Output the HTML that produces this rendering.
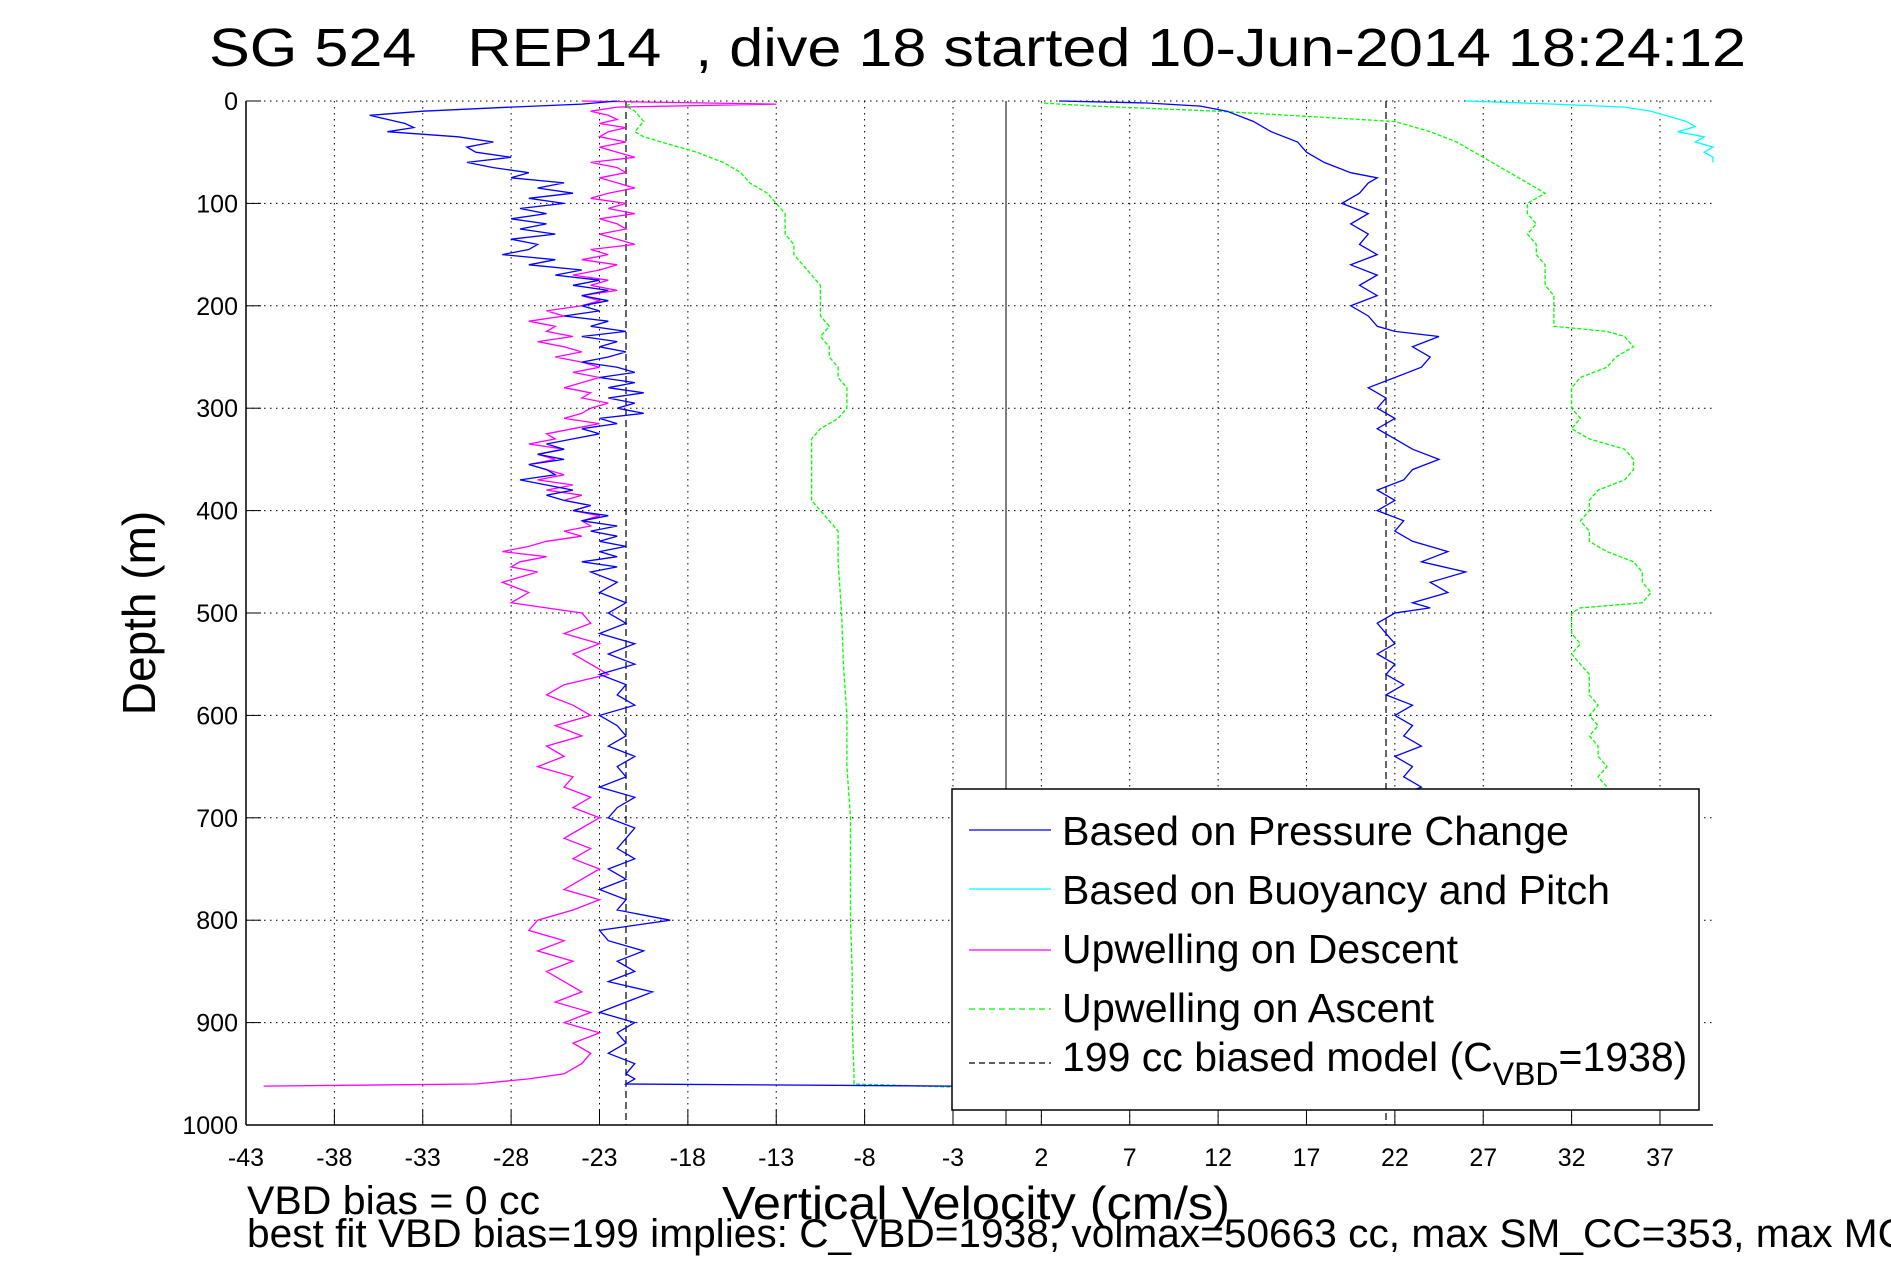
<!DOCTYPE html>
<html><head><meta charset="utf-8">
<style>
html,body{margin:0;padding:0;background:#fff;}
svg{display:block;font-family:"Liberation Sans",sans-serif;}
</style></head>
<body>
<svg id="chart" width="1891" height="1262" viewBox="0 0 1891 1262" xmlns="http://www.w3.org/2000/svg">
<rect width="1891" height="1262" fill="#fff"/>
<text x="209" y="66" font-size="54" textLength="1537" lengthAdjust="spacingAndGlyphs" xml:space="preserve" style="white-space:pre">SG 524   REP14  , dive 18 started 10-Jun-2014 18:24:12</text>
<g id="grid"></g>
<g id="series"></g>
<g id="axes"></g>
<text transform="translate(155,613) rotate(-90)" text-anchor="middle" font-size="46">Depth (m)</text>
<text x="976" y="1219" text-anchor="middle" font-size="46" textLength="508" lengthAdjust="spacingAndGlyphs">Vertical Velocity (cm/s)</text>
<text x="247" y="1214" font-size="40" textLength="293" lengthAdjust="spacingAndGlyphs">VBD bias = 0 cc</text>
<text x="247" y="1247" font-size="40" textLength="1660" lengthAdjust="spacingAndGlyphs">best fit VBD bias=199 implies: C_VBD=1938, volmax=50663 cc, max SM_CC=353, max MC</text>
<g id="legend">
<rect x="952" y="789" width="747" height="321" fill="#fff" stroke="#000" stroke-width="1.5"/>
<line x1="969" y1="830" x2="1051" y2="830" stroke="#0000ff" stroke-width="1.2"/>
<text x="1062" y="845" font-size="41" textLength="507" lengthAdjust="spacingAndGlyphs">Based on Pressure Change</text>
<line x1="969" y1="889" x2="1051" y2="889" stroke="#00ffff" stroke-width="1.2"/>
<text x="1062" y="904" font-size="41" textLength="548" lengthAdjust="spacingAndGlyphs">Based on Buoyancy and Pitch</text>
<line x1="969" y1="950" x2="1051" y2="950" stroke="#ff00ff" stroke-width="1.2"/>
<text x="1062" y="963" font-size="41" textLength="396" lengthAdjust="spacingAndGlyphs">Upwelling on Descent</text>
<line x1="969" y1="1009" x2="1051" y2="1009" stroke="#00ff00" stroke-width="1.2" stroke-dasharray="6,4"/>
<text x="1062" y="1022" font-size="41" textLength="372" lengthAdjust="spacingAndGlyphs">Upwelling on Ascent</text>
<line x1="969" y1="1063" x2="1051" y2="1063" stroke="#000" stroke-width="1.2" stroke-dasharray="6,4"/>
<text x="1062" y="1071" font-size="41">199 cc biased model (C<tspan font-size="32" dy="14">VBD</tspan><tspan dy="-14">=1938)</tspan></text>
</g>
</svg>
<script>
const xTicks=[-43,-38,-33,-28,-23,-18,-13,-8,-3,2,7,12,17,22,27,32,37];
const yTicks=[0,100,200,300,400,500,600,700,800,900,1000];
const descDepth=[0,3,6,10,14,18,22,26,30,35,40,45,50,55,60,65,70,75,80,85,90,95,100,105,110,115,120,125,130,135,140,145,150,155,160,165,170,175,180,185,190,195,200,205,210,215,220,225,230,235,240,245,250,255,260,265,270,275,280,285,290,295,300,305,310,315,320,325,330,335,340,345,350,355,360,365,370,375,380,385,390,395,400,405,410,415,420,425,430,435,440,445,450,455,460,470,480,490,500,510,520,530,540,550,560,570,580,590,600,610,620,630,640,650,660,670,680,690,700,710,720,730,740,750,760,770,780,790,800,810,820,830,840,850,860,870,880,890,900,910,920,930,940,950,955,960,962];
const blueDesc=[-22,-24,-28,-33,-36,-35,-34,-33.5,-35,-31,-29,-30.5,-30,-28,-30.5,-29,-27,-28,-25,-26.5,-24.5,-27,-25,-27.5,-26,-28,-26,-27.5,-25.5,-28,-26.5,-27,-28.5,-25.5,-27,-24,-25.5,-23,-24.5,-22.5,-24,-22.5,-24,-23,-25,-22.5,-23.5,-21.5,-24,-22,-23,-21.5,-22.5,-24,-22,-21,-23,-21,-22.5,-20.5,-22.5,-21,-22,-20.5,-23,-22,-24,-23,-24.5,-26,-25,-26.5,-25,-27,-26,-25.5,-27.5,-26,-24.5,-26,-25,-23.5,-24.5,-22.5,-24,-22,-23.5,-22,-23,-21.5,-23,-22,-24,-22,-23.5,-22,-23,-21.5,-22.5,-21.5,-23,-21,-22.5,-21,-23,-21.5,-22,-21,-23,-22,-21.5,-22.5,-21,-22,-21.5,-23,-21,-22,-22.5,-21,-21.5,-22,-21,-22.5,-21.5,-23,-21.5,-22,-19,-23,-22.5,-20.5,-22,-21,-22.5,-20,-21.5,-23,-21,-22,-21.5,-22.5,-21,-21.5,-21,-21.5,-3];
const magDesc=[-24,-13,-22,-23.5,-22.5,-22,-23,-21.5,-22.5,-23,-21.5,-23,-22,-21,-23.5,-22,-21.5,-23,-22,-21,-22.5,-23.5,-21.5,-22.5,-21,-23,-22,-21.5,-23,-22,-21,-23.5,-22.5,-24,-22,-23,-24.5,-22.5,-23.5,-22,-24,-23,-24,-26,-25,-27,-25.5,-26,-24.5,-26.5,-25,-24,-25.5,-24,-23,-24.5,-23,-24,-25,-23.5,-24,-22.5,-23.5,-24,-25,-23,-24.5,-26,-25.5,-27,-25,-26.5,-25.5,-27,-26,-25,-26.5,-24.5,-26,-24,-25,-23.5,-24.5,-23,-24,-23.5,-25,-24,-26,-27,-28.5,-26,-27.5,-28,-26.5,-28.5,-27,-28,-24,-23.5,-25,-23,-24.5,-23.5,-22.5,-25,-26,-24.5,-23.5,-25.5,-24,-26,-25,-26.5,-24.5,-25,-23.5,-24.5,-23,-24,-25,-23.5,-24.5,-23,-24,-25,-23,-24.5,-26.5,-27,-25,-26.5,-24.5,-26,-25,-24,-25.5,-23.5,-25,-23,-24.5,-23.5,-24,-25,-27,-30,-42];
const ascDepth=[965,950,940,930,920,910,900,890,880,870,860,850,840,830,820,810,800,790,780,770,760,750,740,730,720,710,700,690,680,670,660,650,640,630,620,610,600,590,580,570,560,550,540,530,520,510,500,495,490,480,470,460,450,440,430,420,410,400,390,380,370,360,350,340,330,320,310,300,290,280,270,260,250,240,230,225,220,210,200,190,180,170,160,150,140,130,120,110,100,90,80,75,70,60,50,40,30,20,10,5,2,0];
const blueAsc=[22,22.5,22,23,22,22.5,23,22,22.5,22,23,22,22.5,23,22,22.5,22,23,22.5,22,23,22,22.5,23,22,22.5,22,23,22,23.5,22.5,23,22,23.5,22.5,23,22,23,21.5,22.5,21.5,22,21,22,21.5,21,22,24,23,25,24,26,23.5,25,23,22,22.5,21,22,21,22.5,23,24.5,23,22,21,22,21,21.5,20.5,22,23.5,24,23,24.5,22,21,20.5,19.5,21,20,21,19.5,21,20,20.5,19.5,20.5,19,20,20.5,21,19.5,18,17,16.5,15,14,12.5,11,8,3];
const greenAscX=[33.5,33.5,33.5,33.5,33.5,33.5,33.5,33.5,33.5,33.5,33.5,33.5,33.5,33.5,33.5,33.5,33.5,33.5,33.5,33.5,33.5,33.5,33.5,33.5,33.5,33.5,33.5,33.5,34,34,33.5,34,33.5,33.5,33,33.5,33,33.5,33,33,33,32.5,32,32.5,32,32,32,32.5,36,36.5,36,36,35.5,34,33,33,32.5,33,33,33.5,35,35.5,35.5,35,33,32,32.5,32,32,32,32.5,34,34.5,35.5,35,34,31,31,31,31,30.5,30.5,30.5,30,30,29.5,30,29.5,29.5,30.5,29.5,29,28.5,27.5,26.5,25.5,24,22,12,5,2];
const greenDescDepth=[0,5,10,20,30,35,40,50,60,70,80,90,100,110,120,130,140,150,160,170,180,190,200,210,220,230,240,250,260,270,280,290,300,310,320,330,340,350,360,370,380,390,400,410,420,450,500,550,600,650,700,750,800,850,900,950,960,963];
const greenDescX=[-21,-21.5,-21,-20.5,-21,-20.5,-19.5,-17.5,-16,-15,-14.5,-13.5,-13,-12.5,-12.5,-12.5,-12,-12,-11.5,-11,-10.5,-10.5,-10.5,-10.5,-10,-10.5,-10,-10,-9.5,-9.5,-9,-9,-9,-9.5,-10.5,-11,-11,-11,-11,-11,-11,-11,-10.5,-10,-9.5,-9.5,-9.3,-9.2,-9,-9,-8.8,-8.8,-8.8,-8.7,-8.7,-8.6,-8.6,-3];
const cyanDepth=[0,3,6,10,15,20,25,30,35,40,45,50,55,60];
const cyanX=[26,31,35,36.5,37.5,38.5,39,38,39.5,39,40,39.5,40,40];
const xMin=-43,xMax=40,yMin=0,yMax=1000;
const L=246,R=1713,T=101,B=1125;
const NS='http://www.w3.org/2000/svg';
function sx(v){return L+(v-xMin)/(xMax-xMin)*(R-L);}
function sy(d){return T+(d-yMin)/(yMax-yMin)*(B-T);}
function mk(tag,attrs,parent){const e=document.createElementNS(NS,tag);for(const k in attrs)e.setAttribute(k,attrs[k]);parent.appendChild(e);return e;}
const grid=document.getElementById('grid'),axes=document.getElementById('axes'),ser=document.getElementById('series');
xTicks.forEach(t=>{
  const g=mk('line',{x1:sx(t),x2:sx(t),y1:T,y2:B,stroke:'#000','stroke-width':1,'stroke-dasharray':'1.5,4.5'},grid);
  
  
  const tk=mk('line',{x1:sx(t),x2:sx(t),y1:B,y2:B-15,stroke:'#000','stroke-width':1},axes);
  
  
  const lb=mk('text',{x:sx(t),y:B+41,'text-anchor':'middle','font-size':25},axes);
  
  
  lb.textContent=t;
});
yTicks.forEach(t=>{
  const g=mk('line',{x1:L,x2:R,y1:sy(t),y2:sy(t),stroke:'#000','stroke-width':1,'stroke-dasharray':'1.5,4.5'},grid);
  
  
  const tk=mk('line',{x1:L,x2:L+15,y1:sy(t),y2:sy(t),stroke:'#000','stroke-width':1},axes);
  
  
  const lb=mk('text',{x:L-8,y:sy(t)+9,'text-anchor':'end','font-size':25},axes);
  
  
  lb.textContent=t;
});
const ax1=mk('line',{x1:L,x2:L,y1:T,y2:B,stroke:'#000','stroke-width':1.5},axes);


const ax2=mk('line',{x1:L,x2:R,y1:B,y2:B,stroke:'#000','stroke-width':1.5},axes);


function series(xs,ds,color,dash,name){
  const pts=xs.map((v,i)=>sx(v).toFixed(1)+','+sy(ds[i]).toFixed(1)).join(' ');
  const p=mk('polyline',{points:pts,fill:'none',stroke:color,'stroke-width':1.3},ser);
  if(dash)p.setAttribute('stroke-dasharray',dash);
  
  
}
const z=mk('line',{x1:sx(0),x2:sx(0),y1:T,y2:B,stroke:'#000','stroke-width':1},ser);


const modelX=[-21.5,21.5];
modelX.forEach(v=>{
  const m=mk('line',{x1:sx(v),x2:sx(v),y1:T,y2:B,stroke:'#000','stroke-width':1.2,'stroke-dasharray':'7,4'},ser);
  
  
});
series(greenDescX,greenDescDepth,'#00ff00','4,2','upwelling-ascent-left');
series(greenAscX,ascDepth,'#00ff00','4,2','upwelling-ascent-right');
series(cyanX,cyanDepth,'#00ffff',null,'buoyancy-pitch-series');
series(magDesc,descDepth,'#ff00ff',null,'upwelling-descent-series');
series(blueDesc,descDepth,'#0000ff',null,'pressure-change-descent');
series(blueAsc,ascDepth,'#0000ff',null,'pressure-change-ascent');
</script>
</body></html>
